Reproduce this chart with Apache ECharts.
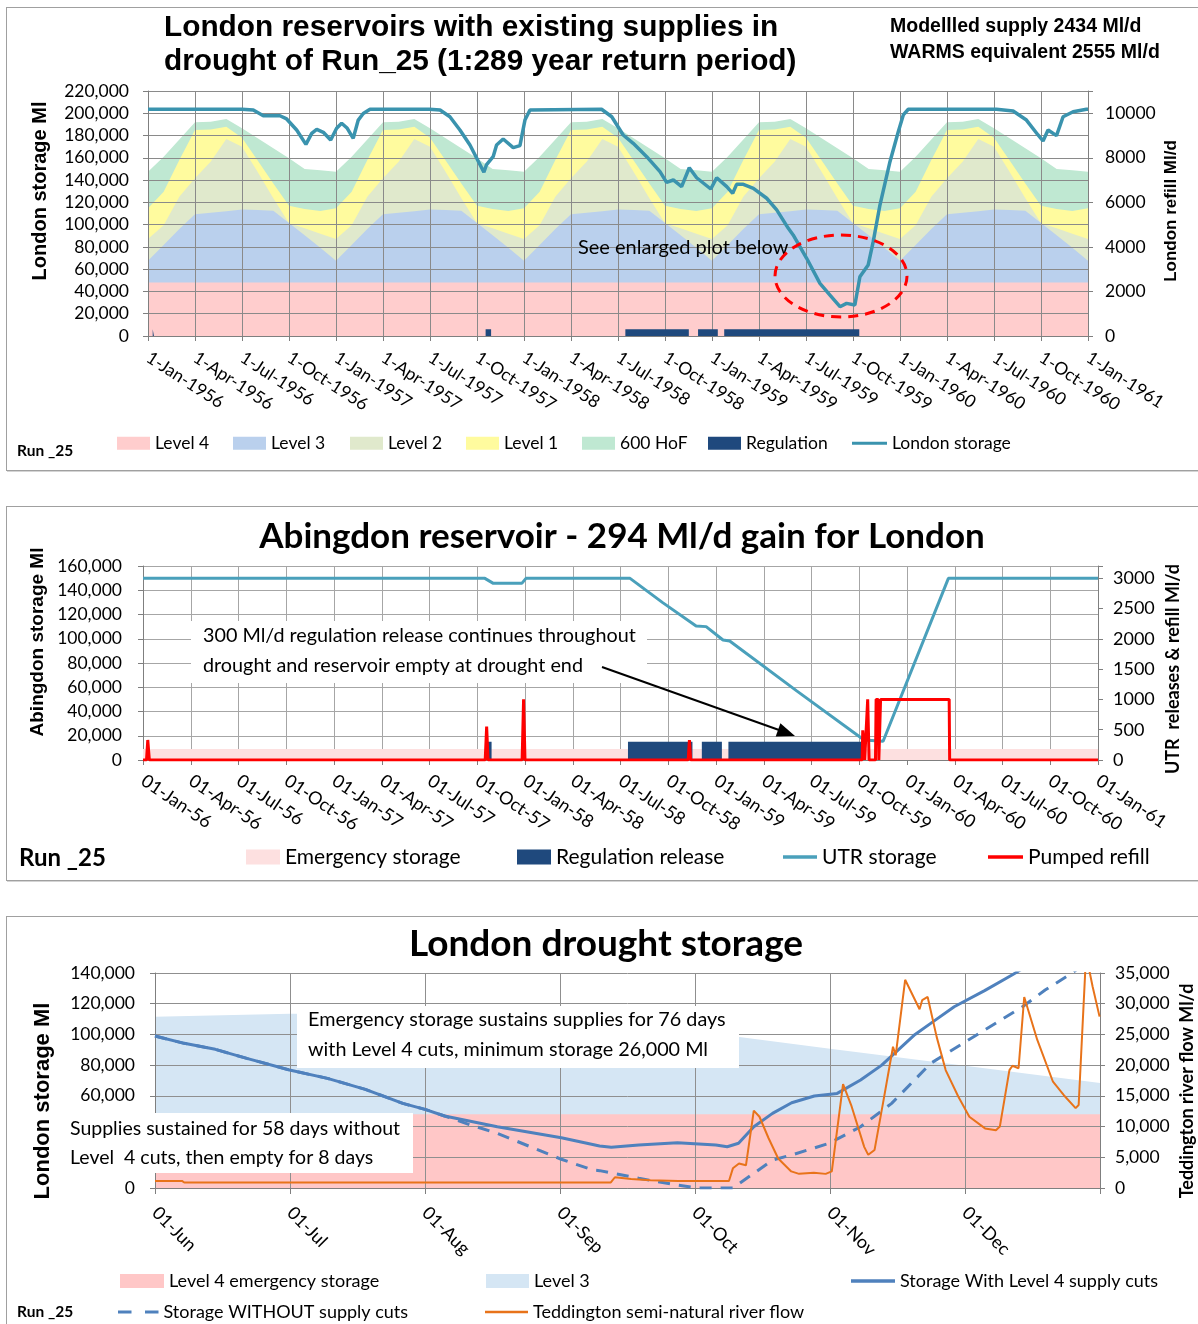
<!DOCTYPE html>
<html><head><meta charset="utf-8">
<script src="https://cdn.jsdelivr.net/npm/echarts@6/dist/echarts.min.js"></script>
<style>
html,body{margin:0;padding:0;background:#fff;}
#wrap{position:relative;width:1198px;height:1324px;overflow:hidden;background:#fff;}
.panel{position:absolute;border:1px solid #a0a0a0;box-sizing:border-box;box-shadow:1px 1px 0 #d4d4d4;}
.chart{position:absolute;left:0;top:0;width:1198px;height:1324px;}
</style></head><body>
<div id="wrap">
<div class="panel" style="left:6px;top:7px;width:1200px;height:464px"></div>
<div class="panel" style="left:6px;top:506px;width:1200px;height:375px"></div>
<div class="panel" style="left:6px;top:916px;width:1200px;height:430px"></div>
<div id="c1" class="chart"></div>
<div id="c2" class="chart"></div>
<div id="c3" class="chart"></div>
</div>
<script>
// ---------------- DATA ----------------
const MON = ['Jan','Feb','Mar','Apr','May','Jun','Jul','Aug','Sep','Oct','Nov','Dec'];

// Chart 1 & 2: x = months since 1 Jan 1956 (0 .. 60)
// seasonal control curves (Ml), Jan..Dec, identical each year
const hofCurve    = [147600,161000,176500,191900,192500,194900,186500,177600,168600,159600,150000,148800];
const level1Curve = [114700,129600,158000,185000,185500,188000,178100,157500,137000,117000,114000,112300];
const level2Curve = [ 87100, 99500,125000,141600,156500,176900,170000,147200,123800,101200, 96700, 91800];
const level3Curve = [ 67600, 81700, 96100,109300,110600,112100,113700,113200,112500,101500, 90400, 79300];
const level4Value = 48000;

// London storage (month, Ml)
const londonStorage = [[0,203600],[6.0,203600],[6.72,202900],[7.36,197800],[8.42,197800],[8.85,194900],[9.49,185000],[10.08,172100],[10.45,182000],[10.77,185600],[11.19,182900],[11.66,176000],[12.04,186500],[12.36,191000],[12.72,186500],[13.1,177500],[13.42,193900],[13.74,199800],[14.17,203600],[17.96,203600],[18.64,202900],[19.27,196900],[19.91,185000],[20.55,171500],[21.44,147000],[21.6,153600],[22.03,161000],[22.25,171500],[22.67,176900],[23.31,169100],[23.74,171000],[24.06,193900],[24.38,203000],[28.95,203600],[29.6,196900],[30.33,180500],[30.97,173000],[31.83,161000],[32.68,147600],[33.1,138000],[33.53,140100],[34.06,134100],[34.55,151100],[35.02,142100],[35.92,132000],[36.3,142100],[36.94,134100],[37.32,128100],[37.57,136200],[38.0,136200],[38.64,132600],[39.49,123700],[40.13,113200],[40.87,96700],[41.18,90700],[42.04,69800],[42.89,47300],[43.53,36800],[44.17,26300],[44.59,29300],[45.12,27800],[45.44,53200],[45.97,63800],[46.29,84700],[46.72,117600],[47.36,156500],[47.89,183400],[48.21,198500],[48.53,203600],[54.16,203600],[55.22,202100],[56.07,193900],[56.81,180500],[57.13,175100],[57.45,185000],[57.99,179900],[58.41,196900],[59.05,201400],[59.9,203600],[60,203600]];

// regulation release periods (start month, end month) at 300 Ml/d
const regulationPeriods = [[0.3,0.38],[21.55,21.9],[30.47,34.52],[35.11,36.37],[36.78,45.4]];
const regulationRate = 300;

// Abingdon (UTR) storage (month, Ml)
const utrStorage = [[0,149800],[21.48,149800],[22.01,145700],[23.8,145700],[24.06,149800],[30.6,149800],[32.65,129800],[34.75,110500],[35.38,110000],[36.44,99000],[36.86,98100],[41.07,57000],[45.3,16500],[46.5,15500],[50.6,149800],[60,149800]];
// pumped refill (month, Ml/d)
const pumpedRefill = [[0,0],[0.22,0],[0.3,330],[0.4,0],[21.5,0],[21.59,550],[21.68,0],[23.82,0],[23.91,1000],[24.0,0],[34.25,0],[34.33,330],[34.41,0],[45.18,0],[45.22,490],[45.3,490],[45.34,0],[45.46,0],[45.53,1000],[45.62,0],[46.02,0],[46.06,1000],[46.19,1000],[46.23,0],[46.3,0],[46.34,1000],[50.65,1000],[50.68,0],[60,0]];
const emergencyStorageUTR = 9000;

// Chart 3: x = days after 1 June 1959
const monthStartDays = [0,30,61,92,122,153,183,214];
const monthTickLabels = ['01-Jun','01-Jul','01-Aug','01-Sep','01-Oct','01-Nov','01-Dec',''];
const level4Emergency = 48000;
const level3Days = [[0,111500],[30,113500],[61,113000],[92,112500],[122,102000],[153,90600],[183,79600],[214,68400]];
const storageWithCuts = [[0,98950],[6.5,94200],[13.4,90300],[20.4,84400],[29.9,76800],[38.6,71400],[47.3,64200],[55.9,55100],[61,51200],[65.5,46900],[77.6,39900],[92.3,32700],[100.8,27300],[103.4,26500],[109.5,28000],[118.1,29500],[126.8,28000],[129.4,26900],[132,29100],[135.5,39900],[139.8,48600],[144.2,55500],[149.4,59900],[154.6,61600],[159.8,70300],[164.5,80000],[171.9,100000],[176,108500],[180.6,118000],[187.5,128500],[194,139000],[196,142500]];
const storageWithoutCuts = [[0,98950],[6.5,94200],[13.4,90300],[20.4,84400],[29.9,76800],[38.6,71400],[47.3,64200],[55.9,55100],[61,51200],[65.5,46900],[71.5,41000],[77.6,35600],[92.3,18700],[99.3,11700],[100.8,11300],[109.5,6300],[118.1,1950],[122.5,0],[130.7,0],[135.5,9550],[139.8,18200],[144.2,21500],[152.8,29100],[159.8,39900],[166.7,55100],[175.4,81200],[187.5,102900],[196.2,118000],[201.4,128900],[207.5,139800],[209,143000]];
const teddingtonFlow = [[0,1150],[6,1150],[6.5,900],[103.3,900],[104.2,1750],[107.8,1450],[112.1,1250],[118.3,1150],[129.8,1150],[130.7,3200],[132.1,4000],[133.7,3700],[135.5,12600],[136.8,11600],[138.9,8100],[141.1,4800],[144.1,2700],[145.9,2300],[149.3,2500],[152,2300],[153.4,2700],[155.9,16900],[157.7,13500],[160.6,6700],[161.5,5400],[162.9,6200],[164.9,14300],[167,23000],[167.6,21600],[169.7,33900],[172.9,29100],[173.5,30600],[174.7,31100],[176.7,24600],[178.7,19200],[181.5,14900],[184,11600],[187.6,9700],[190.1,9400],[191,10000],[193.2,19200],[193.9,19900],[195.3,19500],[196.6,31100],[199.6,24100],[203.2,17300],[205.7,15100],[208.4,13000],[209.1,13500],[210.8,38000],[212.3,32800],[213.9,27900]];

// ---------------- HELPERS ----------------
const FONT = 'Lato, "Open Sans", "Noto Sans", sans-serif';
const ARIAL = '"Liberation Sans", Arial, sans-serif';
const fmt = v => String(v).replace(/\B(?=(\d{3})+(?!\d))/g, ',');
function curveSeries(profile){ const out=[]; for(let m=0;m<=60;m++) out.push([m, profile[m%12]]); return out; }
function steps(ranges, level){ const d=[]; ranges.forEach(([a,b])=>{ d.push([a,0],[a,level],[b,level],[b,0]); }); return d; }
function dayPos(d){ for(let i=0;i<7;i++){ if(d<=monthStartDays[i+1]) return i+(d-monthStartDays[i])/(monthStartDays[i+1]-monthStartDays[i]); } return 7; }
const byDay = arr => arr.map(([d,v])=>[dayPos(d), v]);
function areaS(name, data, color, z, yAxisIndex){
  return {name, type:'line', data, yAxisIndex:yAxisIndex||0, symbol:'none', showSymbol:false, silent:true,
    lineStyle:{width:0, color}, areaStyle:{color, opacity:1}, itemStyle:{color}, z, animation:false};
}
function lineS(name, data, color, width, z, yAxisIndex, type){
  return {name, type:'line', data, yAxisIndex:yAxisIndex||0, symbol:'none', showSymbol:false, silent:true,
    lineStyle:{width, color, type:type||'solid'}, itemStyle:{color}, z, animation:false};
}
function leg(name, iconLeft, cy, w, h, icon, fontSize){
  const bh = Math.max(h, fontSize);
  return {show:true, left:iconLeft, top:cy-bh/2, padding:0, itemGap:0, itemWidth:w, itemHeight:h,
    selectedMode:false, data:[{name, icon}], textStyle:{fontFamily:FONT, fontSize, color:'#000'}};
}
function txt(x, y, text, font, align, rot){
  const e = {type:'text', x, y, z:100, silent:true,
    style:{text, font, fill:'#000', align:align||'left', textAlign:align||'left', verticalAlign:'middle', textVerticalAlign:'middle'}};
  if(rot) e.rotation = rot;
  return e;
}
function rect(x,y,w,h){ return {type:'rect', z:90, silent:true, shape:{x,y,width:w,height:h}, style:{fill:'#fff'}}; }
function yAx(min,max,interval,opts){
  return Object.assign({type:'value', min, max, interval,
    axisLine:{show:true, lineStyle:{color:'#7f7f7f'}},
    axisTick:{show:true, length:5, lineStyle:{color:'#7f7f7f'}},
    splitLine:{show:false},
    axisLabel:{show:true, fontFamily:FONT, fontSize:17, color:'#000', margin:14}}, opts);
}
const PI2 = Math.PI/2;

// ---------------- CHART 1 ----------------
const c1 = echarts.init(document.getElementById('c1'), null, {renderer:'canvas'});
c1.setOption({
  animation:false, backgroundColor:'transparent',
  grid:{left:148, top:91, width:940, height:245, containLabel:false, outerBoundsMode:'none'},
  xAxis:{type:'value', min:0, max:60, interval:3, z:6,
    axisLine:{show:true, onZero:false, lineStyle:{color:'#7f7f7f'}},
    axisTick:{show:true, length:5, lineStyle:{color:'#7f7f7f'}},
    splitLine:{show:true, lineStyle:{color:'#8a8a8a', width:1}},
    axisLabel:{show:true, rotate:-33, margin:20, fontFamily:FONT, fontSize:17.5, color:'#000', showMinLabel:true, showMaxLabel:true,
      formatter:v=>'1-'+MON[Math.round(v)%12]+'-'+(1956+Math.floor(Math.round(v)/12))}},
  yAxis:[
    yAx(0,220000,20000,{z:6, splitLine:{show:true, lineStyle:{color:'#8a8a8a', width:1}},
      axisLabel:{fontFamily:FONT, fontSize:17.5, color:'#000', margin:19, formatter:v=>fmt(v)}}),
    yAx(0,11000,2000,{z:6, position:'right',
      axisLabel:{fontFamily:FONT, fontSize:17.5, color:'#000', margin:17, formatter:v=>(v%2000===0?String(v):'')}})
  ],
  legend:[
    leg('Level 4',117,443,33,13,'rect',17.5),
    leg('Level 3',233,443,33,13,'rect',17.5),
    leg('Level 2',350,443,33,13,'rect',17.5),
    leg('Level 1',466,443,33,13,'rect',17.5),
    leg('600 HoF',582,443,33,13,'rect',17.5),
    leg('Regulation',708,443,33,13,'rect',17.5),
    leg('London storage',852,443,35,3,'rect',17.5)
  ],
  graphic:[
    txt(164,28,'London reservoirs with existing supplies in','bold 29.8px '+ARIAL),
    txt(164,62,'drought of Run_25 (1:289 year return period)','bold 29.8px '+ARIAL),
    txt(890,27,'Modellled supply 2434 Ml/d','bold 19.5px '+ARIAL),
    txt(890,53,'WARMS equivalent 2555 Ml/d','bold 19.5px '+ARIAL),
    txt(40,191,'London storage Ml','bold 20px '+ARIAL,'center',PI2),
    txt(1171,211,'London refill Ml/d','bold 17px '+ARIAL,'center',PI2),
    txt(578,248,'See enlarged plot below','20px '+FONT),
    {type:'ellipse', z:100, silent:true, shape:{cx:841, cy:276, rx:66, ry:41},
      style:{fill:'none', stroke:'#ff0000', lineWidth:3, lineDash:[10,7]}},
    txt(17,451,'Run _25','bold 15.5px '+FONT)
  ],
  series:[
    areaS('600 HoF', curveSeries(hofCurve), '#bfe8d2', 1),
    areaS('Level 1', curveSeries(level1Curve), '#fffb9e', 2),
    areaS('Level 2', curveSeries(level2Curve), '#e0e9cc', 3),
    areaS('Level 3', curveSeries(level3Curve), '#bad0ed', 4),
    areaS('Level 4', [[0,level4Value],[60,level4Value]], '#ffcdcd', 5),
    areaS('Regulation', steps(regulationPeriods, regulationRate), '#1f497d', 7, 1),
    lineS('London storage', londonStorage, '#3a93ae', 3.5, 8)
  ]
});

// ---------------- CHART 2 ----------------
const c2 = echarts.init(document.getElementById('c2'), null, {renderer:'canvas'});
c2.setOption({
  animation:false, backgroundColor:'transparent',
  grid:{left:143, top:566, width:955, height:194, containLabel:false, outerBoundsMode:'none'},
  xAxis:{type:'value', min:0, max:60, interval:3,
    axisLine:{show:true, onZero:false, lineStyle:{color:'#7f7f7f'}},
    axisTick:{show:true, length:5, lineStyle:{color:'#7f7f7f'}},
    splitLine:{show:true, lineStyle:{color:'#a6a6a6', width:1}},
    axisLabel:{show:true, rotate:-34, margin:19, fontFamily:FONT, fontSize:18, color:'#000', showMinLabel:true, showMaxLabel:true,
      formatter:v=>'01-'+MON[Math.round(v)%12]+'-'+String(56+Math.floor(Math.round(v)/12))}},
  yAxis:[
    yAx(0,160000,20000,{splitLine:{show:true, lineStyle:{color:'#a6a6a6', width:1}},
      axisLabel:{fontFamily:FONT, fontSize:17.5, color:'#000', margin:21, formatter:v=>fmt(v)}}),
    yAx(0,3200,500,{position:'right',
      axisLabel:{fontFamily:FONT, fontSize:18, color:'#000', margin:15, formatter:v=>(v%500===0?String(v):'')}})
  ],
  legend:[
    leg('Emergency storage',246,857,34,15,'rect',21),
    leg('Regulation release',517,857,34,15,'rect',21),
    leg('UTR storage',783,857,34,3.5,'rect',21),
    leg('Pumped refill',988,857,35,3.5,'rect',21)
  ],
  graphic:[
    txt(622,537,'Abingdon reservoir - 294 Ml/d gain for London','bold 35px '+FONT,'center'),
    txt(38,642,'Abingdon storage Ml','bold 19px '+ARIAL,'center',PI2),
    txt(1173,669,'UTR  releases & refill Ml/d','bold 18px '+FONT,'center',PI2),
    rect(191,621,456,62),
    txt(203,636,'300 Ml/d regulation release continues throughout','19.8px '+FONT),
    txt(203,666,'drought and reservoir empty at drought end','19.8px '+FONT),
    {type:'line', z:100, silent:true, shape:{x1:602, y1:667, x2:779, y2:730}, style:{stroke:'#000', lineWidth:2}},
    {type:'polygon', z:100, silent:true, shape:{points:[[795,736],[775.7,736.5],[780.4,723.3]]}, style:{fill:'#000'}},
    txt(19,858,'Run _25','bold 24px '+FONT)
  ],
  series:[
    areaS('Emergency storage', [[0,emergencyStorageUTR],[60,emergencyStorageUTR]], '#fde0e0', 1),
    areaS('Regulation release', steps(regulationPeriods, regulationRate), '#1f497d', 3, 1),
    lineS('UTR storage', utrStorage, '#4aa0bb', 3, 4),
    lineS('Pumped refill', pumpedRefill, '#ff0000', 3, 5, 1)
  ]
});

// ---------------- CHART 3 ----------------
const c3 = echarts.init(document.getElementById('c3'), null, {renderer:'canvas'});
c3.setOption({
  animation:false, backgroundColor:'transparent',
  grid:{left:155, top:973, width:945, height:215, containLabel:false, outerBoundsMode:'none'},
  xAxis:{type:'value', min:0, max:7, interval:1, z:6,
    axisLine:{show:true, onZero:false, lineStyle:{color:'#7f7f7f'}},
    axisTick:{show:true, length:6, lineStyle:{color:'#7f7f7f'}},
    splitLine:{show:true, lineStyle:{color:'#8f8f8f', width:1}},
    axisLabel:{show:true, rotate:-45, margin:22, fontFamily:FONT, fontSize:18, color:'#000', showMinLabel:true, showMaxLabel:true,
      formatter:v=>monthTickLabels[Math.round(v)]}},
  yAxis:[
    yAx(0,140000,20000,{z:6, splitLine:{show:true, lineStyle:{color:'#8f8f8f', width:1}},
      axisLabel:{fontFamily:FONT, fontSize:17.5, color:'#000', margin:20, formatter:v=>fmt(v)}}),
    yAx(0,35000,5000,{z:6, position:'right',
      axisLabel:{fontFamily:FONT, fontSize:17.5, color:'#000', margin:15, formatter:v=>fmt(v)}})
  ],
  legend:[
    leg('Level 4 emergency storage',120,1281,44,14,'rect',18),
    leg('Level 3',486,1281,43,14,'rect',18),
    leg('Storage With Level 4 supply cuts',851,1281,44,3.5,'rect',18),
    leg('Storage WITHOUT supply cuts',118,1312,40.5,3.5,'path://M0,0H13.5V3H0Z M27,0H40.5V3H27Z',18),
    leg('Teddington semi-natural river flow',485,1312,43,2.5,'rect',18)
  ],
  graphic:[
    txt(606,944,'London drought storage','bold 37px '+FONT,'center'),
    txt(43,1101,'London storage Ml','bold 22px '+ARIAL,'center',PI2),
    txt(1187,1091,'Teddington river flow Ml/d','bold 18px '+FONT,'center',PI2),
    rect(297,1006,442,62),
    txt(308,1020,'Emergency storage sustains supplies for 76 days','19.8px '+FONT),
    txt(308,1050,'with Level 4 cuts, minimum storage 26,000 Ml','19.8px '+FONT),
    rect(62,1113,351,60),
    txt(70,1128.5,'Supplies sustained for 58 days without','19.5px '+FONT),
    txt(70,1157.5,'Level  4 cuts, then empty for 8 days','19.5px '+FONT),
    txt(17,1312,'Run _25','bold 15.5px '+FONT)
  ],
  series:[
    areaS('Level 3', byDay(level3Days), '#d5e6f4', 1),
    areaS('Level 4 emergency storage', [[0,level4Emergency],[7,level4Emergency]], '#ffc7c7', 2),
    lineS('Storage With Level 4 supply cuts', byDay(storageWithCuts), '#4f81bd', 3, 8),
    lineS('Storage WITHOUT supply cuts', byDay(storageWithoutCuts), '#4f81bd', 3, 8, 0, [12,9]),
    lineS('Teddington semi-natural river flow', byDay(teddingtonFlow), '#e8731a', 2, 9, 1)
  ]
});
</script>
</body></html>
